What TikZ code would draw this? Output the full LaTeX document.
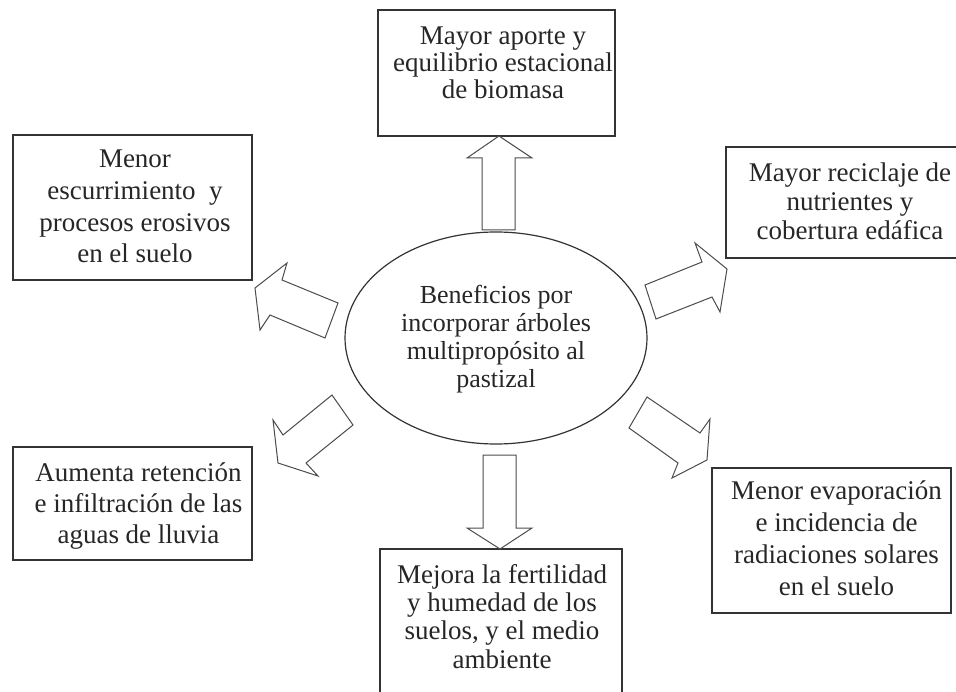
\documentclass[tikz,border=0pt]{standalone}
\usepackage{fontspec}
\setmainfont{Liberation Serif}
\usetikzlibrary{shapes.geometric}
\begin{document}
\begin{tikzpicture}[x=1pt,y=-1pt,
  boxline/.style={draw=black!80, line width=1.3pt, inner sep=0pt},
  blockarrow/.style={draw=black!70, line width=1pt, line join=miter, fill=white},
  txt/.style={align=center, inner sep=0pt, text=black!85, anchor=base}]
\useasboundingbox (0,0) rectangle (956,692);
\clip (0,0) rectangle (956,692);
% boxes
\node[boxline, minimum width=237pt, minimum height=126pt] (btop) at (496.5,73) {};
\node[boxline, minimum width=239pt, minimum height=145pt] (bmenor) at (132.5,207.5) {};
\node[boxline, minimum width=239pt, minimum height=113pt] (baum) at (132.5,503.5) {};
\node[boxline, minimum width=244pt, minimum height=111pt] (brt) at (848,202.5) {};
\node[boxline, minimum width=239pt, minimum height=145pt] (brb) at (831.5,540.5) {};
\node[boxline, minimum width=242pt, minimum height=171pt] (bbot) at (501,634.5) {};
% ellipse
\node[draw=black!80, line width=1.2pt, ellipse, minimum width=302pt, minimum height=212pt] (cen) at (496,338) {};
% block arrows
\draw[blockarrow] (482,230) -- (482,158) -- (467,158) -- (499,136) -- (532,158) -- (515,158) -- (515,230) -- cycle;
\draw[blockarrow] (483,455) -- (516,455) -- (516,528) -- (532,528) -- (500,549) -- (467,528) -- (483,528) -- cycle;
\draw[blockarrow] (338,303) -- (282,280) -- (287,263) -- (255,288) -- (260,330) -- (270,315) -- (325,338) -- cycle;
\draw[blockarrow] (645,285) -- (702,262) -- (695,243) -- (727,269) -- (720,312) -- (712,297) -- (656,319) -- cycle;
\draw[blockarrow] (332,395) -- (283,435) -- (273,420) -- (278,463) -- (318,476) -- (306,463) -- (353,425) -- cycle;
\draw[blockarrow] (647,397) -- (700,433) -- (710,419) -- (707,460) -- (672,478) -- (678,463) -- (629,428) -- cycle;
% texts (anchor = baseline of last line)
\node[txt, font=\fontsize{27}{26.7}\selectfont] (ttop) at (503,98.4) {Mayor aporte y\\equilibrio estacional\\de biomasa};
\node[txt, font=\fontsize{27}{31.7}\selectfont] (tmenor) at (135,263) {Menor\\escurrimiento\ \ y\\procesos erosivos\\en el suelo};
\node[txt, font=\fontsize{27}{31}\selectfont] (taum) at (138.5,543) {Aumenta retención\\e infiltración de las\\aguas de lluvia};
\node[txt, font=\fontsize{27}{29}\selectfont] (trt) at (850,240) {Mayor reciclaje de\\nutrientes y\\cobertura edáfica};
\node[txt, font=\fontsize{27}{31.7}\selectfont] (trb) at (836.5,595) {Menor evaporación\\e incidencia de\\radiaciones solares\\en el suelo};
\node[txt, font=\fontsize{27}{28.3}\selectfont] (tbot) at (502,668) {Mejora la fertilidad\\y humedad de los\\suelos, y el medio\\ambiente};
\node[txt, font=\fontsize{26}{28}\selectfont] (tcen) at (496,388) {Beneficios por\\incorporar árboles\\multipropósito al\\pastizal};
\end{tikzpicture}
\end{document}
